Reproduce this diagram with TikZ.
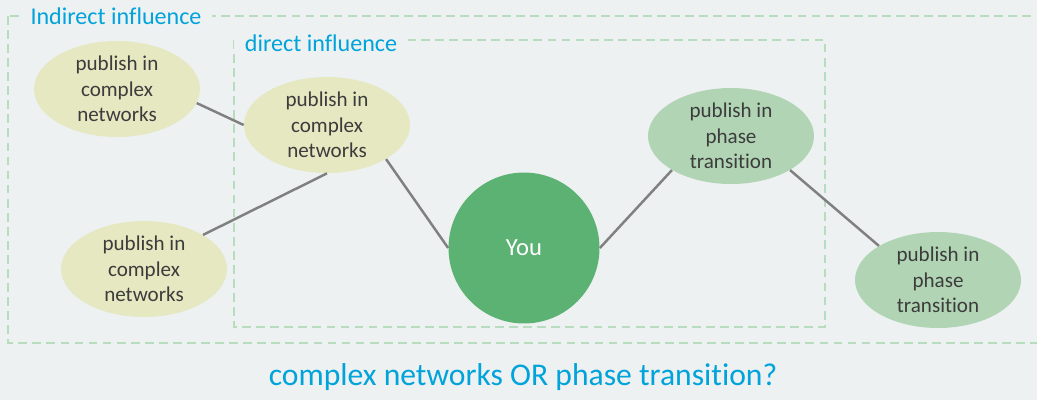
\documentclass[tikz,border=0pt]{standalone}
\usepackage{fontspec}
\setmainfont{Carlito}[Ligatures={NoCommon}]
\usetikzlibrary{shapes.geometric}
\definecolor{bgcol}{RGB}{237,241,242}
\definecolor{cplxcol}{RGB}{229,232,192}
\definecolor{phasecol}{RGB}{177,213,180}
\definecolor{youcol}{RGB}{91,178,115}
\definecolor{bluecol}{RGB}{0,163,218}
\definecolor{dashcol}{RGB}{184,220,190}
\definecolor{linecol}{RGB}{128,128,128}
\definecolor{txtcol}{RGB}{60,60,60}

\begin{document}
\begin{tikzpicture}[x=0.02cm,y=-0.02cm,
topic/.style={ellipse,inner sep=0pt,minimum width=3.32cm,minimum height=1.92cm,align=center,text=txtcol,font=\fontsize{12}{14.4}\selectfont},
cplx/.style={topic,fill=cplxcol},
phase/.style={topic,fill=phasecol},
frame/.style={draw=dashcol,line width=0.6pt,dash pattern=on 5pt off 3pt},
tag/.style={fill=bgcol,text=bluecol,inner xsep=6pt,inner ysep=1pt,font=\fontsize{13.7}{16}\selectfont}]
\fill[bgcol] (0,0) rectangle (1037,400);
\useasboundingbox (0,0) rectangle (1037,400);
% the two influence zones
\path[frame] (8,16) rectangle (1050,343);
\path[frame] (234,40) rectangle (825,327);
\node[tag] (I) at (116,16) {Indirect influence};
\node[tag] (D) at (321,43) {direct influence};
\node[cplx] (A) at (117,89) {publish in\\complex\\networks};
\node[cplx] (B) at (327,125) {publish in\\complex\\networks};
\node[cplx] (C) at (144,269) {publish in\\complex\\networks};
\node[circle,fill=youcol,minimum size=3.02cm,text=white,font=\fontsize{14}{16}\selectfont] (Y) at (524,248) {You};
\node[phase] (P) at (731,136) {publish in\\phase\\transition};
\node[phase] (Q) at (938,280) {publish in\\phase\\transition};
\path[draw=linecol,line width=1.4pt]
(A.-10) edge (B.west)
(C.30) edge (B.south)
(B.-30) edge (Y.west)
(Y.east) edge (P.210)
(P.-30) edge (Q.150);
\node[text=bluecol,font=\fontsize{18}{21}\selectfont] (T) at (523,377) {complex networks OR phase transition?};
\end{tikzpicture}
\end{document}
